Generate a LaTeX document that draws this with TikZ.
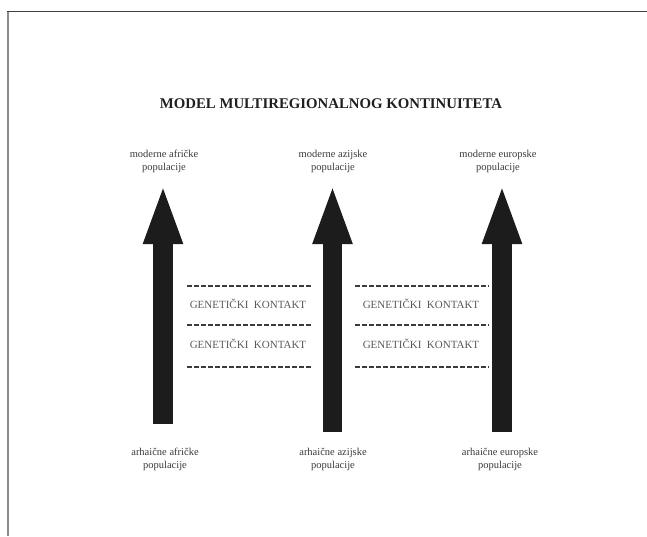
\documentclass[tikz,border=0pt]{standalone}
\usepackage{fontspec}
\setmainfont{Liberation Serif}
\usetikzlibrary{arrows.meta}
\definecolor{arrowc}{HTML}{1C1C1C}
\definecolor{labelc}{HTML}{3A3A3A}
\definecolor{genc}{HTML}{5A5A5A}
\definecolor{dashc}{HTML}{3C3C3C}
\tikzset{
  popl/.style={align=center, text=labelc, font=\fontsize{10.5}{13}\selectfont, inner sep=0pt},
  genlabel/.style={text=genc, font=\fontsize{11}{13}\selectfont, inner sep=0pt},
  bigarrow/.style={draw=arrowc, line width=19.5pt, line cap=butt,
    -{Triangle[width=35pt,length=61pt]}},
  contact/.style={draw=dashc, line width=1.6pt, dash pattern=on 5pt off 2pt},
}
\begin{document}
\begin{tikzpicture}[x=1pt,y=-1pt]
\useasboundingbox (0,0) rectangle (647,536);
\fill[white] (0,0) rectangle (647,536);
% frame
\draw[draw=black!75, line width=1.4pt] (7,11.5) -- (647,11.5);
\draw[draw=black!45, line width=2pt] (8,11.5) -- (8,536);
% title
\node[font=\bfseries\fontsize{14.8}{17}\selectfont, text=black!88, inner sep=0pt] (title) at (331,104) {MODEL MULTIREGIONALNOG KONTINUITETA};
% top labels
\node[popl] (mafr) at (164,161) {moderne afričke\\populacije};
\node[popl] (mazi) at (333,161) {moderne azijske\\populacije};
\node[popl] (meur) at (498,161) {moderne europske\\populacije};
% bottom labels
\node[popl] (aafr) at (165,459) {arhaične afričke\\populacije};
\node[popl] (aazi) at (333,459) {arhaične azijske\\populacije};
\node[popl] (aeur) at (500,459) {arhaične europske\\populacije};
% arrow end points
\coordinate (b1) at (163,424);
\coordinate (t1) at (163,183);
\coordinate (b2) at (332.5,432);
\coordinate (t2) at (332.5,183);
\coordinate (b3) at (502,432);
\coordinate (t3) at (502,183);
\draw[bigarrow] (b1) -- (t1);
\draw[bigarrow] (b2) -- (t2);
\draw[bigarrow] (b3) -- (t3);
% dashed contact lines, left group
\coordinate (l1a) at (187,286); \coordinate (l1b) at (311,286);
\coordinate (l2a) at (187,325); \coordinate (l2b) at (311,325);
\coordinate (l3a) at (187,367); \coordinate (l3b) at (311,367);
\draw[contact] (l1a) -- (l1b);
\draw[contact] (l2a) -- (l2b);
\draw[contact] (l3a) -- (l3b);
% right group
\coordinate (r1a) at (355,286); \coordinate (r1b) at (489,286);
\coordinate (r2a) at (355,325); \coordinate (r2b) at (489,325);
\coordinate (r3a) at (355,367); \coordinate (r3b) at (489,367);
\draw[contact] (r1a) -- (r1b);
\draw[contact] (r2a) -- (r2b);
\draw[contact] (r3a) -- (r3b);
% labels
\node[genlabel] (g1) at (248,304) {GENETIČKI\ \ KONTAKT};
\node[genlabel] (g2) at (248,344) {GENETIČKI\ \ KONTAKT};
\node[genlabel] (g3) at (421,304) {GENETIČKI\ \ KONTAKT};
\node[genlabel] (g4) at (421,344) {GENETIČKI\ \ KONTAKT};
\end{tikzpicture}
\end{document}
